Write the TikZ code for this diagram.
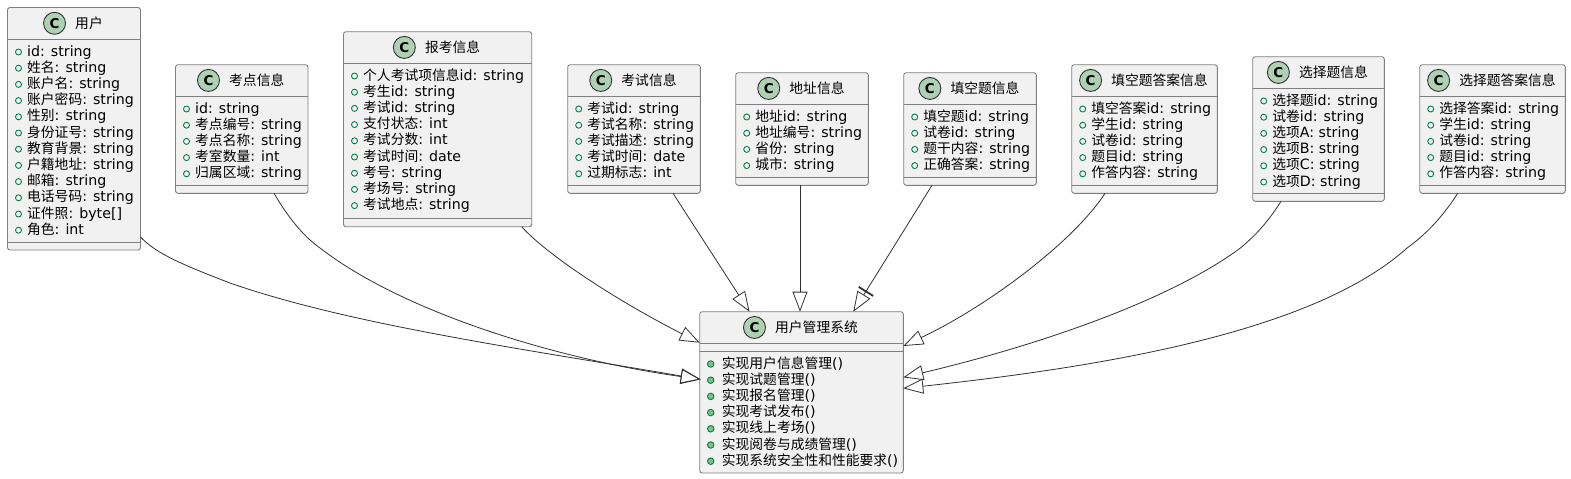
\documentclass[tikz,border=0pt]{standalone}
\usepackage{fontspec}
\setmainfont{DejaVu Sans}
\newfontfamily\zhfont[Scale=0.97]{Noto Sans CJK SC}
\usetikzlibrary{arrows.meta}
\definecolor{boxfill}{HTML}{F1F1F1}
\definecolor{boxline}{HTML}{7F7F7F}
\definecolor{markline}{HTML}{038048}
\definecolor{markfill}{HTML}{84BE84}
\definecolor{classfill}{HTML}{ADD1B2}
\definecolor{linkline}{HTML}{303030}
\newcommand{\zh}[1]{{\zhfont #1}}

\tikzset{
  classbox/.style={draw=boxline,fill=boxfill,line width=0.9pt,rounded corners=2.5pt,inner sep=0pt,outer sep=0pt},
  classline/.style={draw=boxline,line width=0.9pt},
  classmark/.style={circle,draw=linkline,fill=classfill,line width=0.9pt,minimum size=22pt,inner sep=0pt,
    font=\fontsize{13.5}{14}\selectfont\bfseries},
  titletext/.style={anchor=base,inner sep=0pt,font=\fontsize{14.2}{16}\selectfont},
  rowtext/.style={anchor=base west,inner sep=0pt,font=\fontsize{14.2}{16}\selectfont},
  fieldmark/.style={circle,draw=markline,line width=0.9pt,minimum size=6pt,inner sep=0pt},
  methodmark/.style={circle,draw=markline,fill=markfill,line width=0.9pt,minimum size=6.5pt,inner sep=0pt},
  genlink/.style={draw=linkline,line width=0.8pt,-{Triangle[open,length=20pt,width=15pt]}},
  barlink/.style={draw=linkline,line width=0.8pt,-{Bar[width=17pt,line width=1.8pt,sep=3pt]Triangle[open,length=20pt,width=15pt]}}
}

% #1 name, #2 left, #3 top, #4 right, #5 bottom, #6 title, #7 lower line
\newcommand{\umlbox}[7]{
  \node[classbox,minimum width={#4-#2},minimum height={#5-#3}] (#1) at ({(#2+#4)/2},{(#3+#5)/2}) {};
  \draw[classline] (#2,#3+32) -- (#4,#3+32);
  \draw[classline] (#2,#7) -- (#4,#7);
  \node[titletext] (#1title) at ({(#2+#4)/2+15},#3+21) {#6};
  \node[classmark] (#1mark) at ([xshift=-20.5pt]#1title.west) {C};
}
% #1 mark style, #2 left, #3 first row, #4 text offset, #5 rows
\newcommand{\umlrows}[5]{
  \foreach \row [count=\n from 0] in {#5} {
    \node[#1] at (#2+11,#3+16.2*\n+1) {};
    \node[rowtext] at (#2+#4,#3+16.2*\n+5) {\row};
  }
}

\begin{document}
\begin{tikzpicture}[x=1pt,y=-1pt]
  \useasboundingbox (0,0) rectangle (1571,479);

  % Classes
  \umlbox{user}{7.5}{7.5}{140.5}{250}{\zh{用户}}{242}
  \umlrows{fieldmark}{7.5}{51}{19.5}{id: string,\zh{姓名}: string,\zh{账户名}: string,\zh{账户密码}: string,\zh{性别}: string,\zh{身份证号}: string,\zh{教育背景}: string,\zh{户籍地址}: string,\zh{邮箱}: string,\zh{电话号码}: string,\zh{证件照}: byte[],\zh{角色}: int}

  \umlbox{site}{175.5}{64.7}{308}{193.3}{\zh{考点信息}}{185.3}
  \umlrows{fieldmark}{175.5}{108}{19.5}{id: string,\zh{考点编号}: string,\zh{考点名称}: string,\zh{考室数量}: int,\zh{归属区域}: string}

  \umlbox{apply}{343.5}{31.7}{531.7}{226.7}{\zh{报考信息}}{218.5}
  \umlrows{fieldmark}{343.5}{75}{19.5}{\zh{个人考试项信息}id: string,\zh{考生}id: string,\zh{考试}id: string,\zh{支付状态}: int,\zh{考试分数}: int,\zh{考试时间}: date,\zh{考号}: string,\zh{考场号}: string,\zh{考试地点}: string}

  \umlbox{exam}{567.7}{64.7}{700.3}{193.3}{\zh{考试信息}}{185.3}
  \umlrows{fieldmark}{567.7}{108}{19.5}{\zh{考试}id: string,\zh{考试名称}: string,\zh{考试描述}: string,\zh{考试时间}: date,\zh{过期标志}: int}

  \umlbox{addr}{735.7}{72.7}{868.3}{185.3}{\zh{地址信息}}{177.3}
  \umlrows{fieldmark}{735.7}{116}{19.5}{\zh{地址}id: string,\zh{地址编号}: string,\zh{省份}: string,\zh{城市}: string}

  \umlbox{blank}{903.7}{72.7}{1036.3}{185.3}{\zh{填空题信息}}{177.3}
  \umlrows{fieldmark}{903.7}{116}{19.5}{\zh{填空题}id: string,\zh{试卷}id: string,\zh{题干内容}: string,\zh{正确答案}: string}

  \umlbox{blankans}{1071.7}{64.7}{1217.3}{193.3}{\zh{填空题答案信息}}{185.3}
  \umlrows{fieldmark}{1071.7}{108}{19.5}{\zh{填空答案}id: string,\zh{学生}id: string,\zh{试卷}id: string,\zh{题目}id: string,\zh{作答内容}: string}

  \umlbox{choice}{1252.7}{56.7}{1384.3}{201.3}{\zh{选择题信息}}{193.3}
  \umlrows{fieldmark}{1252.7}{100}{19.5}{\zh{选择题}id: string,\zh{试卷}id: string,\zh{选项}A: string,\zh{选项}B: string,\zh{选项}C: string,\zh{选项}D: string}

  \umlbox{choiceans}{1419.7}{64.7}{1565.3}{193.3}{\zh{选择题答案信息}}{185.3}
  \umlrows{fieldmark}{1419.7}{108}{19.5}{\zh{选择答案}id: string,\zh{学生}id: string,\zh{试卷}id: string,\zh{题目}id: string,\zh{作答内容}: string}

  % System class with its methods
  \umlbox{sys}{699.7}{311.7}{903.3}{473}{\zh{用户管理系统}}{351.3}
  \umlrows{methodmark}{699.7}{363}{22}{\zh{实现用户信息管理}(),\zh{实现试题管理}(),\zh{实现报名管理}(),\zh{实现考试发布}(),\zh{实现线上考场}(),\zh{实现阅卷与成绩管理}(),\zh{实现系统安全性和性能要求}()}

  % Links
  \draw[genlink] ([yshift=13pt]user.south east) .. controls (155,252) and (175,262) .. (230,283) .. controls (350,325) and (530,350) .. ([xshift=1pt,yshift=13pt]sys.west);
  \draw[genlink] ([xshift=32.25pt]site.south) .. controls (288,217) and (302,235) .. (320,248) .. controls (400,310) and (550,358) .. ([xshift=1pt,yshift=13pt]sys.west);
  \draw[genlink] ([xshift=-10pt]apply.south east) .. controls (550,258) and (625,305) .. (sys.north west |- 0,342.7);
  \draw[genlink] ([xshift=39pt]exam.south) -- ([xshift=-52pt]sys.north);
  \draw[genlink] ([xshift=-2pt]addr.south) -- ([xshift=-1.5pt]sys.north);
  \draw[barlink] ([xshift=-38pt]blank.south) -- ([xshift=51.8pt]sys.north);
  \draw[genlink] ([xshift=-39.5pt]blankans.south) .. controls (1075,240) and (990,305) .. (sys.north east |- 0,346);
  \draw[genlink] ([xshift=-37.5pt]choice.south) .. controls (1268,222) and (1255,236) .. (1240,248.3) .. controls (1170,300) and (1040,345) .. ([yshift=15pt]sys.east);
  \draw[genlink] ([xshift=-34.8pt]choiceans.south) .. controls (1442,218) and (1425,235) .. (1406.7,248.3) .. controls (1310,335) and (1090,368) .. ([yshift=4pt]sys.east);
\end{tikzpicture}
\end{document}
